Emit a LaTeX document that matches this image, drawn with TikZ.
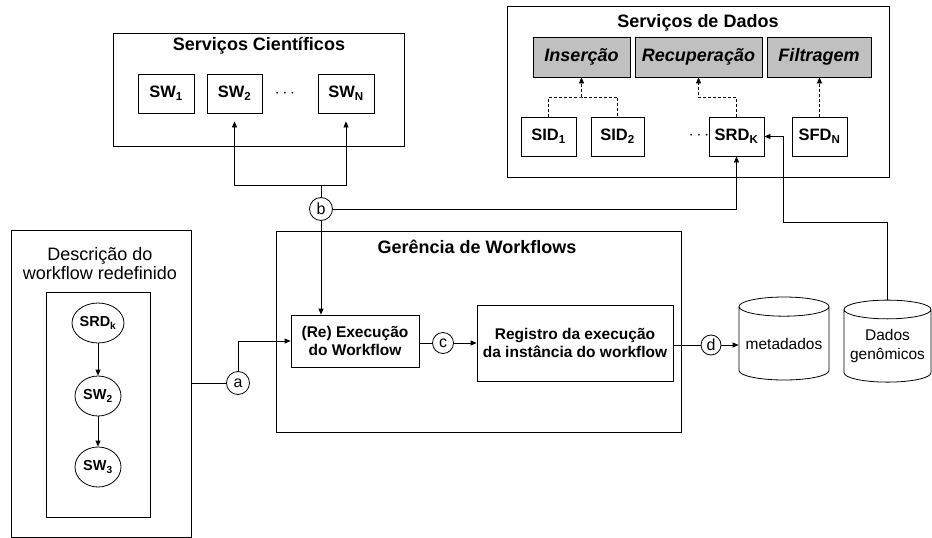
\documentclass[tikz,border=0pt]{standalone}
\usepackage{fontspec}
\setmainfont{Liberation Sans}
\usetikzlibrary{positioning,shapes.geometric,arrows.meta}

\tikzset{
  frame/.style={draw, minimum width=#1},
  sq/.style={draw, minimum width=#1, minimum height=39pt, font=\bfseries\fontsize{16.5}{18}\selectfont},
  gbox/.style={draw, fill=boxgray, minimum width=#1, minimum height=40pt, font=\bfseries\itshape\fontsize{18}{20}\selectfont},
  ttl/.style={font=\bfseries\fontsize{18}{20}\selectfont},
  proc/.style={draw, align=center, font=\bfseries\fontsize{15.5}{18.5}\selectfont},
  state/.style={draw, ellipse, minimum width=46pt, minimum height=40pt, inner sep=0pt, font=\bfseries\fontsize{14.5}{16}\selectfont},
  tag/.style={draw, circle, minimum size=#1, inner sep=0pt, font=\fontsize{16}{16}\selectfont},
  db/.style={draw, cylinder, shape border rotate=90, aspect=0.25, align=center, inner sep=0pt, font=\fontsize{15.5}{19}\selectfont},
  gap/.style={font=\fontsize{17}{17}\selectfont}
}
\definecolor{boxgray}{RGB}{192,192,192}

\begin{document}
\begin{tikzpicture}[x=1pt, y=-1pt, line width=0.8pt, >={Triangle[length=6pt,width=5pt]}]
  \useasboundingbox (0,0) rectangle (932,538);

  % servicos cientificos
  \node[frame=291pt, minimum height=113pt] (sci) at (258.5,89.5) {};
  \node[ttl] (scititle) at (259,46) {Serviços Científicos};
  \node[sq=56pt] (sw1) at (166,93.5) {SW\textsubscript{1}};
  \node[sq=55pt] (sw2) at (234.5,93.5) {SW\textsubscript{2}};
  \node[gap] (dotsw) at (285,94) {$\cdots$};
  \node[sq=56pt] (swn) at (346,93.5) {SW\textsubscript{N}};

  % servicos de dados
  \node[frame=382pt, minimum height=171pt] (dat) at (698,91.5) {};
  \node[ttl] (dattitle) at (698,23) {Serviços de Dados};
  \node[gbox=97pt] (ins) at (581.5,57) {Inserção};
  \node[gbox=127pt] (rec) at (698.5,57) {Recuperação};
  \node[gbox=104pt] (fil) at (819,57) {Filtragem};
  \node[sq=55pt] (sid1) at (548.5,136.5) {SID\textsubscript{1}};
  \node[sq=53pt] (sid2) at (617.5,136.5) {SID\textsubscript{2}};
  \node[gap] (dotsd) at (699,136) {$\cdots$};
  \node[sq=55pt] (srd) at (736.5,136.5) {SRD\textsubscript{K}};
  \node[sq=55pt] (sfd) at (819.5,136.5) {SFD\textsubscript{N}};

  \coordinate (ji) at (581.5,97);
  \coordinate (jr) at (698.5,97);
  \draw[dash pattern=on 3pt off 2pt] (sid1.north) |- (ji) -| (sid2.north);
  \draw[dash pattern=on 3pt off 2pt, ->] (ji) -- (ins.south);
  \draw[dash pattern=on 3pt off 2pt, ->] (srd.north) |- (jr) -- (rec.south);
  \draw[dash pattern=on 3pt off 2pt, ->] (sfd.north) -- (sfd.north |- fil.south);

  % descricao do workflow
  \node[frame=180pt, minimum height=307pt] (desc) at (101,383.5) {};
  \node[align=center, font=\fontsize{18}{19}\selectfont] (desctitle) at (100,263.5) {Descrição do\\workflow redefinido};
  \node[frame=104pt, minimum height=225pt] (inner) at (98,404.5) {};
  \node[state] (st1) at (98,323) {SRD\textsubscript{k}};
  \node[state] (st2) at (98,396) {SW\textsubscript{2}};
  \node[state] (st3) at (98,467) {SW\textsubscript{3}};
  \draw[->] (st1) -- (st2);
  \draw[->] (st2) -- (st3);

  % gerencia de workflows
  \node[frame=405pt, minimum height=201pt] (ger) at (478.5,331.5) {};
  \node[ttl] (gertitle) at (477,247) {Gerência de Workflows};
  \node[proc, minimum width=128pt, minimum height=52pt] (exe) at (355,341) {(Re) Execução\\do Workflow};
  \node[proc, minimum width=196pt, minimum height=76pt] (reg) at (575,343) {Registro da execução\\da instância do workflow};

  % repositorios
  \node[db, minimum width=90pt, minimum height=83pt] (meta) at (784,343.5) {metadados};
  \node[db, minimum width=87pt, minimum height=82pt] (gen) at (887.5,346) {Dados\\genômicos};

  % ligacoes
  \node[tag=23pt] (a) at (238,383) {a};
  \node[tag=23pt] (b) at (321,209) {b};
  \node[tag=21pt] (c) at (443,343) {c};
  \node[tag=20pt] (d) at (711,345) {d};

  \coordinate (jb) at (321,185.5);
  \draw (b) -- (jb);
  \draw[->, shorten >=8pt] (jb) -| (sw2.south);
  \draw[->, shorten >=8pt] (jb) -| (swn.south);
  \draw[->] (b) -| (srd.south);
  \draw[->] (b) -- (b |- exe.north);

  \draw (desc.east |- a) -- (a);
  \draw[->] (a) |- (exe);
  \draw (exe.east |- c) -- (c);
  \draw[->] (c) -- (c -| reg.west);
  \draw (reg.east |- d) -- (d);
  \draw[->] (d) -- (d -| meta.west);

  \coordinate (jg) at (783,222);
  \draw[->] (gen.north) |- (jg) |- (srd.east);
\end{tikzpicture}
\end{document}
